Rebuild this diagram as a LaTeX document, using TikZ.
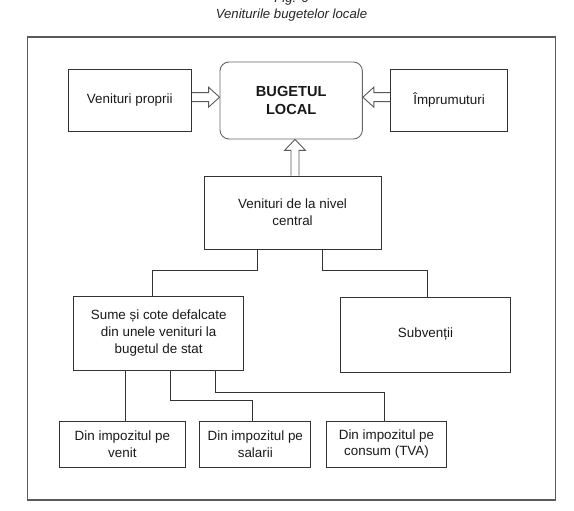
\documentclass[tikz,border=0pt]{standalone}
\usepackage{fontspec}
\setmainfont{Liberation Sans}
\usetikzlibrary{calc}
\definecolor{boxline}{HTML}{333333}
\definecolor{frameline}{HTML}{5A5A5A}
\tikzset{
  box/.style={draw=boxline, line width=0.9pt, align=center, inner sep=2pt,
    font=\fontsize{13.4}{16.8}\selectfont, text=black!90},
  rbox/.style={box, draw=black!60, rounded corners=9pt, font=\fontsize{14.6}{18.5}\selectfont\bfseries},
  conn/.style={draw=boxline, line width=0.9pt},
  harrow/.style={draw=black!65, line width=0.9pt, line join=miter},
  frame/.style={draw=frameline, line width=1.2pt},
  captext/.style={font=\fontsize{13.2}{16.8}\selectfont\itshape, text=black!85, inner sep=0pt}
}
\begin{document}
\begin{tikzpicture}[x=1pt,y=-1pt]
\useasboundingbox (0,0) rectangle (574,511);
% titles
\node[captext, anchor=base] (fig) at (291.5,2.2) {Fig. 6};
\node[captext, anchor=base] (title) at (291.5,19) {Veniturile bugetelor locale};
% outer frame
\draw[frame] (27.3,37) rectangle (555.7,500);
% nodes
\node[box, minimum width=123.5pt, minimum height=62pt] (vp) at (129.8,100) {Venituri proprii};
\node[rbox, minimum width=142.4pt, minimum height=77pt] (bl) at (291.2,100.5) {BUGETUL\\LOCAL};
\node[box, minimum width=116.4pt, minimum height=62pt] (im) at (449.1,100) {Împrumuturi};
\node[box, minimum width=176.8pt, minimum height=73pt] (vc) at (292.6,212.5) {Venituri de la nivel\\central};
\node[box, minimum width=170.2pt, minimum height=74pt] (sc) at (158.7,333) {Sume și cote defalcate\\din unele venituri la\\bugetul de stat};
\node[box, minimum width=170.2pt, minimum height=75pt] (sv) at (425.5,334.5) {Subvenții};
\node[box, minimum width=126.3pt, minimum height=46pt] (d1) at (122.4,444) {Din impozitul pe\\venit};
\node[box, minimum width=110.9pt, minimum height=46pt] (d2) at (255.3,444) {Din impozitul pe\\salarii};
\node[box, minimum width=120.8pt, minimum height=46pt] (d3) at (386.5,444) {Din impozitul pe\\consum (TVA)};
% helper coordinates
\coordinate (ly) at (0,97.2);
\coordinate (ux) at (295,0);
\coordinate (a1) at (257.3,270);
\coordinate (j1) at (152.6,270);
\coordinate (a2) at (322.7,270);
\coordinate (j2) at (427,270);
\coordinate (b1) at (125.2,400);
\coordinate (b2) at (170.2,400);
\coordinate (b2r) at (252.5,400);
\coordinate (b3) at (215.2,392);
\coordinate (b3r) at (384.3,392);
% hollow arrows
\draw[harrow] ($(vp.east|-ly)+(0,-4.5)$) -- ($(bl.west|-ly)+(-11,-4.5)$) -- ($(bl.west|-ly)+(-11,-10)$) -- (bl.west|-ly)
  -- ($(bl.west|-ly)+(-11,10)$) -- ($(bl.west|-ly)+(-11,4.5)$) -- ($(vp.east|-ly)+(0,4.5)$);
\draw[harrow] ($(im.west|-ly)+(0,-4.5)$) -- ($(bl.east|-ly)+(11,-4.5)$) -- ($(bl.east|-ly)+(11,-10)$) -- (bl.east|-ly)
  -- ($(bl.east|-ly)+(11,10)$) -- ($(bl.east|-ly)+(11,4.5)$) -- ($(im.west|-ly)+(0,4.5)$);
\draw[harrow] ($(vc.north-|ux)+(-4,0)$) -- ($(bl.south-|ux)+(-4,11)$) -- ($(bl.south-|ux)+(-10.5,11)$) -- (bl.south-|ux)
  -- ($(bl.south-|ux)+(10.5,11)$) -- ($(bl.south-|ux)+(4,11)$) -- ($(vc.north-|ux)+(4,0)$);
% connectors
\draw[conn] (vc.south-|a1) -- (a1) -- (j1) -- (sc.north-|j1);
\draw[conn] (vc.south-|a2) -- (a2) -- (j2) -- (sv.north-|j2);
\draw[conn] (sc.south-|b1) -- (d1.north-|b1);
\draw[conn] (sc.south-|b2) -- (b2) -- (b2r) -- (d2.north-|b2r);
\draw[conn] (sc.south-|b3) -- (b3) -- (b3r) -- (d3.north-|b3r);
\end{tikzpicture}
\end{document}
